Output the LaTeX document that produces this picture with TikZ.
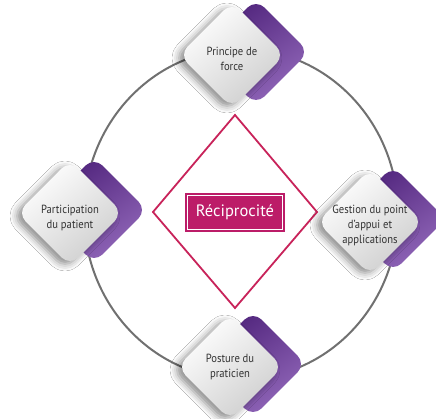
\documentclass[tikz,border=0pt]{standalone}
\usepackage{fontspec}
\setmainfont{PT Sans}
\newfontfamily\labelfont{PT Sans}[FakeStretch=0.9]
\usetikzlibrary{shapes.geometric,shadows.blur}

\definecolor{ringgray}{RGB}{112,112,112}
\definecolor{crimson}{RGB}{200,35,90}
\definecolor{boxmagenta}{RGB}{188,28,104}
\definecolor{purpledark}{RGB}{78,34,122}
\definecolor{purplelight}{RGB}{146,104,186}
\definecolor{tiledark}{RGB}{206,206,206}
\definecolor{labelgray}{RGB}{50,50,50}

\tikzset{
  tile/.style={diamond, rounded corners=12pt, minimum size=106pt, inner sep=0pt,
    top color=white, bottom color=tiledark, shading angle=40,
    blur shadow={shadow xshift=-5pt, shadow yshift=-3pt, shadow blur radius=7pt, shadow opacity=45}},
  backtile/.style={diamond, rounded corners=12pt, minimum size=106pt, inner sep=0pt,
    top color=purpledark, bottom color=purplelight, shading angle=35},
  tilelabel/.style={font=\labelfont\fontsize{11.8}{15}\selectfont, text=labelgray,
    align=center, inner sep=0pt},
  ring/.style={draw=ringgray, line width=2pt},
  hub/.style={draw=crimson, line width=1.8pt, fill=white},
  badge/.style={fill=boxmagenta, minimum width=100pt, minimum height=39pt, inner sep=0pt},
  badgetext/.style={text=white, font=\fontsize{16.5}{19}\selectfont, inner sep=0pt},
}

\begin{document}
\begin{tikzpicture}[x=1pt, y=-1pt]
  \useasboundingbox (0,0) rectangle (436,419);
  \fill[white] (0,0) rectangle (436,419);

  % outer ring
  \draw[ring] (241,214) ellipse [x radius=157, y radius=165];

  % central diamond and title
  \path[hub] (235,115) -- (317,212) -- (235,308) -- (153,212) -- cycle;
  \node[badge] (hubbox) at (235,212.5) {};
  \draw[white, line width=0.7pt] ([shift={(2.5pt,2.5pt)}]hubbox.south west)
    rectangle ([shift={(-2.5pt,-2.5pt)}]hubbox.north east);
  \node[badgetext] (hubtext) at (235,212.5) {Réciprocité};

  % purple back tiles
  \node[backtile] (forceback)   at (256,52)  {};
  \node[backtile] (patientback) at (94,210)  {};
  \node[backtile] (appuiback)   at (393,219) {};
  \node[backtile] (postureback) at (253,364) {};

  % light front tiles
  \node[tile] (force)   at (232,55)  {};
  \node[tile] (patient) at (70,213)  {};
  \node[tile] (appui)   at (370,222) {};
  \node[tile] (posture) at (230,367) {};

  % tile labels
  \node[tilelabel] (forcetext)   at ([yshift=-4pt]force.center)   {Principe de\\force};
  \node[tilelabel] (patienttext) at ([yshift=-5pt]patient.center) {Participation\\du patient};
  \node[tilelabel] (appuitext)   at ([yshift=-3pt]appui.center)   {Gestion du point\\d’appui et\\applications};
  \node[tilelabel] (posturetext) at ([yshift=0pt]posture.center)  {Posture du\\praticien};
\end{tikzpicture}
\end{document}
